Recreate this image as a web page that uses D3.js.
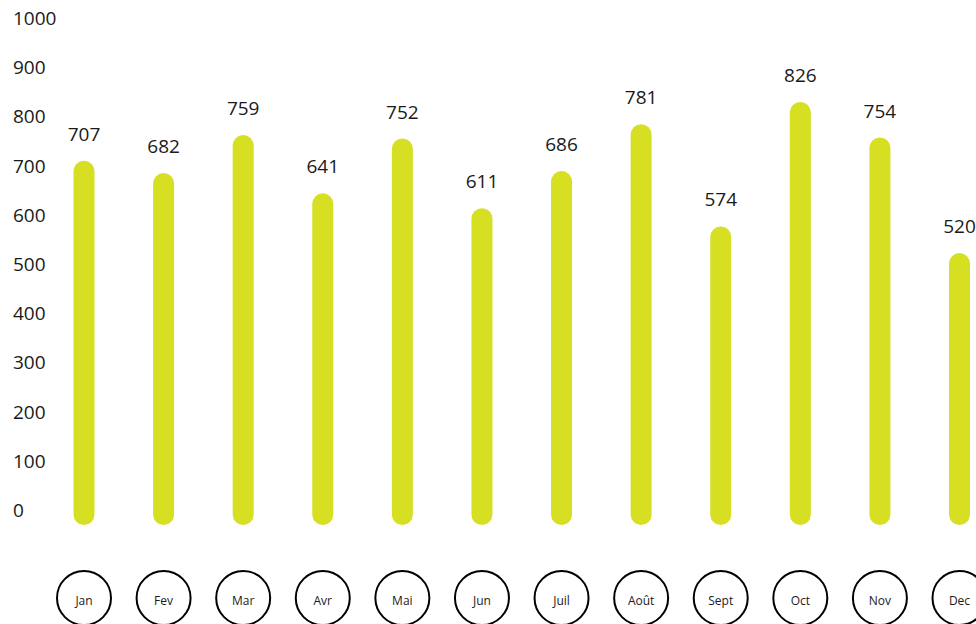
<!DOCTYPE html>
<html>
<head>
<meta charset="utf-8">
<script src="https://cdn.jsdelivr.net/npm/d3@7"></script>
<style>
  html, body { margin: 0; padding: 0; background: #ffffff; }
  svg { display: block; }
  text { font-family: "Open Sans", "Noto Sans", sans-serif; fill: #1a1a1a; }
</style>
</head>
<body>
<svg id="chart" width="976" height="624"></svg>
<script>
const months = ["Jan", "Fev", "Mar", "Avr", "Mai", "Jun", "Juil", "Août", "Sept", "Oct", "Nov", "Dec"];
const values = [707, 682, 759, 641, 752, 611, 686, 781, 574, 826, 754, 520];
const yTicks = [0, 100, 200, 300, 400, 500, 600, 700, 800, 900, 1000];

const svg = d3.select("#chart");

const x = d3.scalePoint().domain(months).range([84, 959.5]);
const y = d3.scaleLinear().domain([0, 1000]).range([510, 16]);
const yLab = d3.scaleLinear().domain([0, 1000]).range([517, 25]);

const barW = 21;
const barBottom = y(0) + 15;

// Y tick labels
svg.append("g")
  .selectAll("text")
  .data(yTicks)
  .join("text")
  .attr("x", 13)
  .attr("y", d => yLab(d))
  .attr("font-size", 19)
  .text(d => d);

// Bars (rounded pills)
svg.append("g")
  .selectAll("rect")
  .data(values)
  .join("rect")
  .attr("x", (d, i) => x(months[i]) - barW / 2)
  .attr("y", d => y(d))
  .attr("width", barW)
  .attr("height", d => barBottom - y(d))
  .attr("rx", barW / 2)
  .attr("ry", barW / 2)
  .attr("fill", "#d7df23");

// Value labels
svg.append("g")
  .selectAll("text")
  .data(values)
  .join("text")
  .attr("x", (d, i) => x(months[i]))
  .attr("y", d => y(d) - 20)
  .attr("text-anchor", "middle")
  .attr("font-size", 19)
  .text(d => d);

// Month circles
const circY = 598;
const g = svg.append("g")
  .selectAll("g")
  .data(months)
  .join("g")
  .attr("transform", d => `translate(${x(d)},${circY})`);

g.append("circle")
  .attr("r", 27)
  .attr("fill", "none")
  .attr("stroke", "#000")
  .attr("stroke-width", 2);

g.append("text")
  .attr("text-anchor", "middle")
  .attr("y", 6.5)
  .attr("font-size", 12)
  .text(d => d);
</script>
</body>
</html>
